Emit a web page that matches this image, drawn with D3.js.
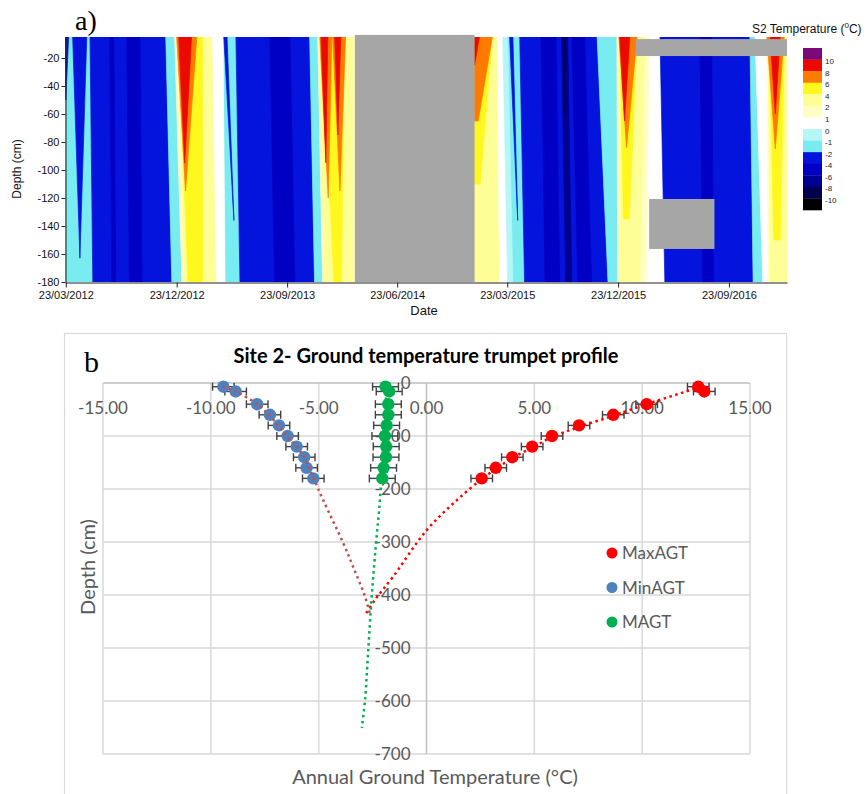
<!DOCTYPE html>
<html><head><meta charset="utf-8">
<script src="https://cdn.jsdelivr.net/npm/d3@7"></script>
<style>
body{margin:0;background:#fff;}
svg{display:block;}
</style></head><body>
<svg id="chart" width="867" height="794"></svg>
<script>
// ================= DATA: panel a) =================
const dateStart = "2012-03-21";
const dateEnd = "2017-02-14";
const tempThresholds = [-10, -8, -6, -4, -2, -1, 0, 1, 2, 4, 6, 8, 10];
const tempColors = ["#000000", "#00004e", "#000090", "#0000c4", "#0514dc", "#78ecf0", "#b6f6f6",
                    "#ffffff", "#ffffc4", "#fefe96", "#fff81e", "#ff7a00", "#ea0a00", "#7a0a7a"];
const legendLabels = ["10", "8", "6", "4", "2", "1", "0", "-1", "-2", "-4", "-6", "-8", "-10"];
const dateTicks = ["2012-03-23", "2012-12-23", "2013-09-23", "2014-06-23", "2015-03-23", "2015-12-23", "2016-09-23"];
const dateMinorTicks = ["2012-09-23", "2013-06-23", "2014-03-23", "2014-12-23", "2015-09-23", "2016-06-23"];
const depthTicks = [-20, -40, -60, -80, -100, -120, -140, -160, -180];
const depthMinorTicks = [-10, -30, -50, -70, -90, -110, -130, -150, -170];

// temperature bands (value in °C); edges at -5 cm (top) and at bandDepth (bottom)
const bandValue = [
  -1.5, -3, -1.5, 1.5, -1.5, -3, -1.5, 1.5, 1.5, 0.5, -1.5, -3, -1.5, 1.5, 0.5, -3, -1.5, 0.5, 1.5,
  -3, -3, -5, -5, 0.5, 3, 5, 7, 9, -3, -5, 3, 5, 7, 7, 9, 9,
  3, 5, 7, 9, -0.5, -3, -5, -7, -9, -5, 3, 5, 7, 9, -5, 3, 5, 7, 9];
const bandTopStart = [
  "2012-03-21", "2012-05-22", "2012-11-26", "2012-12-18", "2013-04-17", "2013-05-19", "2013-11-18", "2013-12-08",
  "2015-01-01", "2015-02-16", "2015-03-17", "2015-04-23", "2015-11-01", "2015-12-20", "2016-03-11", "2016-04-05",
  "2016-11-14", "2016-11-27", "2016-12-26",
  "2012-04-09", "2012-03-21", "2012-07-10", "2012-08-21", "2013-03-20", "2012-12-26", "2012-12-28", "2012-12-23",
  "2012-12-28", "2013-04-19", "2013-08-11", "2013-12-11", "2013-12-18", "2013-12-13", "2014-01-14", "2013-12-16",
  "2014-01-19",
  "2015-01-01", "2015-01-01", "2015-01-01", "2015-01-01", "2015-03-12", "2015-03-29", "2015-06-15", "2015-08-05",
  "2015-08-10", "2015-08-30", "2015-12-25", "2015-12-27", "2015-12-25", "2015-12-27", "2016-07-13", "2016-12-29",
  "2017-01-01", "2016-12-26", "2017-01-03"];
const bandTopEnd = [
  "2012-05-22", "2012-11-26", "2012-12-18", "2013-04-17", "2013-05-19", "2013-11-18", "2013-12-08", "2014-03-10",
  "2015-03-05", "2015-03-17", "2015-04-23", "2015-11-01", "2015-12-20", "2016-03-11", "2016-04-05", "2016-11-14",
  "2016-11-27", "2016-12-26", "2017-02-14",
  "2012-05-14", "2012-03-30", "2012-07-20", "2012-09-23", "2013-04-17", "2013-03-20", "2013-02-25", "2013-02-11",
  "2013-01-29", "2013-04-27", "2013-09-30", "2014-03-05", "2014-02-12", "2014-01-12", "2014-02-15", "2014-01-02",
  "2014-02-03",
  "2015-02-25", "2015-02-14", "2015-02-14", "2015-01-13", "2015-03-24", "2015-04-06", "2015-07-22", "2015-08-20",
  "2015-08-15", "2015-10-01", "2016-02-27", "2016-02-08", "2016-02-08", "2016-01-21", "2016-08-11", "2017-02-14",
  "2017-02-08", "2017-02-07", "2017-01-28"];
const bandBottomStart = [
  "2012-03-21", "2012-05-29", "2012-12-11", "2013-01-05", "2013-04-22", "2013-05-29", "2013-11-30", "2013-12-20",
  "2015-01-01", "2015-03-05", "2015-03-29", "2015-05-05", "2015-11-28", "2015-12-22", "2016-03-04", "2016-04-17",
  "2016-11-22", "2016-12-16", "2016-12-29",
  "2012-04-27", "2012-03-23", "2012-07-15", "2012-08-28", "2013-03-30", "2013-01-12", "2013-01-20", "2013-01-14",
  "2013-01-12", "2013-05-14", "2013-08-23", "2013-12-25", "2014-01-17", "2014-01-03", "2014-02-01", "2013-12-28",
  "2014-01-27",
  "2015-01-01", "2015-01-01", "2015-01-01", "2015-01-01", "2015-03-24", "2015-04-18", "2015-06-25", "2015-08-15",
  "2015-08-12", "2015-09-14", "2015-12-27", "2016-01-05", "2016-01-13", "2016-01-08", "2016-07-20", "2017-01-03",
  "2017-01-12", "2017-01-16", "2017-01-16"];
const bandBottomEnd = [
  "2012-05-29", "2012-12-11", "2013-01-05", "2013-04-22", "2013-05-29", "2013-11-30", "2013-12-20", "2014-03-10",
  "2015-03-12", "2015-03-29", "2015-05-05", "2015-11-28", "2015-12-22", "2016-03-04", "2016-04-17", "2016-11-22",
  "2016-12-16", "2016-12-29", "2017-02-14",
  "2012-04-27", "2012-03-23", "2012-07-25", "2012-09-28", "2013-04-22", "2013-03-30", "2013-02-25", "2013-01-14",
  "2013-01-12", "2013-05-14", "2013-10-12", "2014-03-05", "2014-02-05", "2014-01-03", "2014-02-01", "2013-12-28",
  "2014-01-27",
  "2015-03-02", "2015-01-15", "2015-01-10", "2015-01-01", "2015-04-06", "2015-04-18", "2015-07-31", "2015-08-30",
  "2015-08-12", "2015-10-18", "2016-02-15", "2016-01-20", "2016-01-13", "2016-01-08", "2016-08-16", "2017-02-14",
  "2017-01-28", "2017-01-16", "2017-01-16"];
const bandDepth = [
  -180, -180, -180, -180, -180, -180, -180, -180, -180, -180, -180, -180, -180, -180, -180, -180, -180, -180, -180,
  -163, -50, -180, -180, -180, -180, -180, -115, -95, -136, -180, -180, -180, -120, -115, -95, -75,
  -180, -110, -65, -25, -180, -136, -180, -180, -60, -180, -180, -135, -84, -65, -180, -180, -150, -85, -60];

// gaps in the record (grey blocks)
const gapStart = ["2014-03-10", "2016-02-05", "2016-03-09"];
const gapEnd = ["2015-01-01", "2017-02-14", "2016-08-18"];
const gapTop = [-3.5, -6.5, -120.7];
const gapBottom = [-180, -18.6, -156.4];

// ================= DATA: panel b) =================
const sensorDepth = [-7, -16, -40, -60, -80, -100, -120, -140, -160, -180];
const maxAGT = [12.60, 12.88, 10.21, 8.66, 7.07, 5.82, 4.90, 3.98, 3.21, 2.56];
const minAGT = [-9.42, -8.85, -7.85, -7.26, -6.84, -6.44, -6.02, -5.67, -5.56, -5.25];
const meanAGT = [-1.90, -1.73, -1.77, -1.77, -1.85, -1.93, -1.87, -1.88, -1.99, -2.05];
const maxErr = [0.5, 0.5, 0.5, 0.5, 0.5, 0.5, 0.5, 0.5, 0.5, 0.5];
const minErr = [0.5, 0.5, 0.5, 0.5, 0.5, 0.5, 0.5, 0.5, 0.5, 0.5];
const meanErr = [0.6, 0.6, 0.6, 0.6, 0.6, 0.6, 0.6, 0.6, 0.6, 0.6];
const maxTrendT = [12.7, 10.2, 8.65, 7.07, 5.82, 4.9, 3.96, 3.22, 2.57, 1.41, 0.02, -1.56, -2.39, -2.85];
const maxTrendD = [-7.5, -40, -62, -83, -102, -122, -142, -162, -181, -221, -277, -366, -409, -438];
const minTrendT = [-9.44, -8.85, -7.85, -7.26, -6.84, -6.44, -6.02, -5.67, -5.45, -5.2, -4.79, -3.86, -3.40, -2.85, -2.62];
const minTrendD = [-7.5, -16, -40, -62, -82, -102, -121, -140, -160, -183, -221, -302, -347, -403, -436];
const meanTrendT = [-1.85, -2.0, -2.16, -2.34, -2.54, -2.70, -2.85, -3.0];
const meanTrendD = [-5, -110, -221, -302, -403, -503, -598, -651];
const tempTicksB = [-15, -10, -5, 0, 5, 10, 15];
const depthTicksB = [0, -100, -200, -300, -400, -500, -600, -700];
const seriesNames = ["MaxAGT", "MinAGT", "MAGT"];
const seriesColors = ["#ff0000", "#4f81bd", "#00b050"];
const trendColors = ["#ff0000", "#c0504d", "#00b050"];

// ================= DRAW: panel a) =================
const svg = d3.select("#chart");
const parse = d3.timeParse("%Y-%m-%d");
const color = d3.scaleThreshold().domain(tempThresholds).range(tempColors);
const x = d3.scaleTime().domain([parse(dateStart), parse(dateEnd)]).range([65, 787]);
const y = d3.scaleLinear().domain([-180, -5]).range([282, 37]);
const fA = "'Liberation Sans', Arial, sans-serif";

svg.append("defs").append("clipPath").attr("id", "clipA")
  .append("rect").attr("x", x.range()[0]).attr("y", y(-5)).attr("width", x.range()[1] - x.range()[0]).attr("height", y(-180) - y(-5));

const gHeat = svg.append("g").attr("clip-path", "url(#clipA)");
bandValue.forEach((v, i) => {
  const pts = [
    [x(parse(bandTopStart[i])), y(-5)],
    [x(parse(bandTopEnd[i])), y(-5)],
    [x(parse(bandBottomEnd[i])), y(bandDepth[i])],
    [x(parse(bandBottomStart[i])), y(bandDepth[i])]
  ];
  gHeat.append("polygon")
    .attr("points", pts.map(p => p.join(",")).join(" "))
    .attr("fill", color(v)).attr("stroke", color(v)).attr("stroke-width", 0.7).attr("stroke-linejoin", "round");
});

gapStart.forEach((s, i) => {
  svg.append("rect")
    .attr("x", x(parse(s))).attr("y", y(gapTop[i]))
    .attr("width", x(parse(gapEnd[i])) - x(parse(s)))
    .attr("height", y(gapBottom[i]) - y(gapTop[i]))
    .attr("fill", "#a6a6a6");
});

// axes
const yAxisMinor = d3.axisLeft(y).tickValues(depthMinorTicks).tickSize(2).tickFormat("").tickSizeOuter(0);
const yAxis = d3.axisLeft(y).tickValues(depthTicks).tickSize(4).tickPadding(2).tickFormat(d => String(d)).tickSizeOuter(0);
const gy = svg.append("g").attr("transform", `translate(${x.range()[0] + 0.5},0)`);
gy.call(yAxisMinor);
gy.call(yAxis);
const xAxisMinor = d3.axisBottom(x).tickValues(dateMinorTicks.map(parse)).tickSize(3).tickFormat("").tickSizeOuter(0);
const xAxis = d3.axisBottom(x).tickValues(dateTicks.map(parse)).tickSize(5).tickPadding(4)
  .tickFormat(d3.timeFormat("%d/%m/%Y")).tickSizeOuter(0);
const gx = svg.append("g").attr("transform", `translate(0,${y.range()[0] + 0.5})`);
gx.call(xAxisMinor);
gx.call(xAxis);
[gx, gy].forEach(g => {
  g.selectAll("text").attr("font-family", fA).attr("font-size", 11).attr("fill", "#111");
  g.selectAll("line,path").attr("stroke", "#222");
});

svg.append("text").attr("x", 424).attr("y", 315).attr("text-anchor", "middle")
  .attr("font-family", fA).attr("font-size", 13).attr("fill", "#111").text("Date");
svg.append("text").attr("transform", "translate(21,169) rotate(-90)").attr("text-anchor", "middle")
  .attr("font-family", fA).attr("font-size", 12).attr("fill", "#111").text("Depth (cm)");
svg.append("text").attr("x", 75).attr("y", 30).attr("font-family", "'Liberation Serif', 'Times New Roman', serif")
  .attr("font-size", 28).attr("fill", "#000").text("a)");

// colour bar
const legY = d3.scaleLinear().domain([0, tempColors.length]).range([48, 210]);
const legColors = tempColors.slice().reverse();
legColors.forEach((c, i) => {
  svg.append("rect").attr("x", 803).attr("y", legY(i)).attr("width", 19).attr("height", legY(i + 1) - legY(i) + 0.3).attr("fill", c);
});
legendLabels.forEach((l, i) => {
  svg.append("text").attr("x", 825).attr("y", legY(i + 1) + 4.5)
    .attr("font-family", fA).attr("font-size", 8).attr("fill", "#222").text(l);
});
const tt = svg.append("text").attr("x", 752).attr("y", 33).attr("font-family", fA).attr("font-size", 12).attr("fill", "#111");
tt.append("tspan").text("S2 Temperature (");
tt.append("tspan").attr("font-size", 8).attr("dy", -5).text("0");
tt.append("tspan").attr("dy", 5).text("C)");

// ================= DRAW: panel b) =================
const fB = "Lato, 'Open Sans', sans-serif";
const xB = d3.scaleLinear().domain([-15, 15]).range([103, 750]);
const yB = d3.scaleLinear().domain([-700, 0]).range([754, 383]);

svg.append("rect").attr("x", 64.5).attr("y", 333.5).attr("width", 722).attr("height", 480)
  .attr("fill", "none").attr("stroke", "#d9d9d9").attr("stroke-width", 1.2);

// gridlines
tempTicksB.filter(t => t !== 0).forEach(t => {
  svg.append("line").attr("x1", xB(t)).attr("x2", xB(t)).attr("y1", yB(0)).attr("y2", yB(-700))
    .attr("stroke", "#d9d9d9").attr("stroke-width", 1.5);
});
depthTicksB.filter(d => d !== 0).forEach(d => {
  svg.append("line").attr("x1", xB(-15)).attr("x2", xB(15)).attr("y1", yB(d)).attr("y2", yB(d))
    .attr("stroke", "#d9d9d9").attr("stroke-width", 1.5);
});
svg.append("line").attr("x1", xB(0)).attr("x2", xB(0)).attr("y1", yB(0)).attr("y2", yB(-700))
  .attr("stroke", "#bfbfbf").attr("stroke-width", 1.5);
svg.append("line").attr("x1", xB(-15)).attr("x2", xB(15)).attr("y1", yB(0)).attr("y2", yB(0))
  .attr("stroke", "#bfbfbf").attr("stroke-width", 1.5);

// tick labels
tempTicksB.forEach(t => {
  svg.append("text").attr("x", xB(t)).attr("y", yB(0) + 31).attr("text-anchor", "middle")
    .attr("font-family", fB).attr("font-size", 17).attr("fill", "#595959").text(t.toFixed(2));
});
depthTicksB.forEach(d => {
  svg.append("text").attr("x", xB(0) - 16).attr("y", yB(d) + 6).attr("text-anchor", "end")
    .attr("font-family", fB).attr("font-size", 17).attr("fill", "#595959").text(String(d));
});

// title and axis titles
svg.append("text").attr("x", 426).attr("y", 363).attr("text-anchor", "middle")
  .attr("font-family", fB).attr("font-weight", "bold").attr("font-size", 20).attr("fill", "#000")
  .text("Site 2- Ground temperature trumpet profile");
svg.append("text").attr("x", 84).attr("y", 372).attr("font-family", "'Liberation Serif', 'Times New Roman', serif")
  .attr("font-size", 30).attr("fill", "#000").text("b");
svg.append("text").attr("transform", "translate(95,567) rotate(-90)").attr("text-anchor", "middle")
  .attr("font-family", fB).attr("font-size", 20).attr("fill", "#595959").text("Depth (cm)");
svg.append("text").attr("x", 435).attr("y", 784).attr("text-anchor", "middle")
  .attr("font-family", fB).attr("font-size", 20).attr("fill", "#595959").text("Annual Ground Temperature (°C)");

// series
const seriesVals = [maxAGT, minAGT, meanAGT];
const seriesErr = [maxErr, minErr, meanErr];
const gErr = svg.append("g").attr("stroke", "#404040").attr("stroke-width", 1.4);
seriesVals.forEach((vals, s) => {
  vals.forEach((v, i) => {
    const yy = yB(sensorDepth[i]);
    const e = seriesErr[s][i];
    gErr.append("line").attr("x1", xB(v - e)).attr("x2", xB(v + e)).attr("y1", yy).attr("y2", yy);
    gErr.append("line").attr("x1", xB(v - e)).attr("x2", xB(v - e)).attr("y1", yy - 4).attr("y2", yy + 4);
    gErr.append("line").attr("x1", xB(v + e)).attr("x2", xB(v + e)).attr("y1", yy - 4).attr("y2", yy + 4);
  });
});
seriesVals.forEach((vals, s) => {
  vals.forEach((v, i) => {
    svg.append("circle").attr("cx", xB(v)).attr("cy", yB(sensorDepth[i])).attr("r", 6.2).attr("fill", seriesColors[s]);
  });
});

// trendlines
const trendT = [maxTrendT, minTrendT, meanTrendT];
const trendD = [maxTrendD, minTrendD, meanTrendD];
trendT.forEach((ts, s) => {
  const line = d3.line().x((d, i) => xB(d)).y((d, i) => yB(trendD[s][i])).curve(d3.curveCatmullRom);
  svg.append("path").attr("d", line(ts)).attr("fill", "none").attr("stroke", trendColors[s])
    .attr("stroke-width", 2.5).attr("stroke-dasharray", "2.5,3.5");
});

// legend
seriesNames.forEach((n, i) => {
  const ly = 553 + i * 34.5;
  svg.append("circle").attr("cx", 612).attr("cy", ly).attr("r", 5.5).attr("fill", seriesColors[i]);
  svg.append("text").attr("x", 622).attr("y", ly + 6).attr("font-family", fB).attr("font-size", 17)
    .attr("fill", "#595959").text(n);
});
</script>
</body></html>
